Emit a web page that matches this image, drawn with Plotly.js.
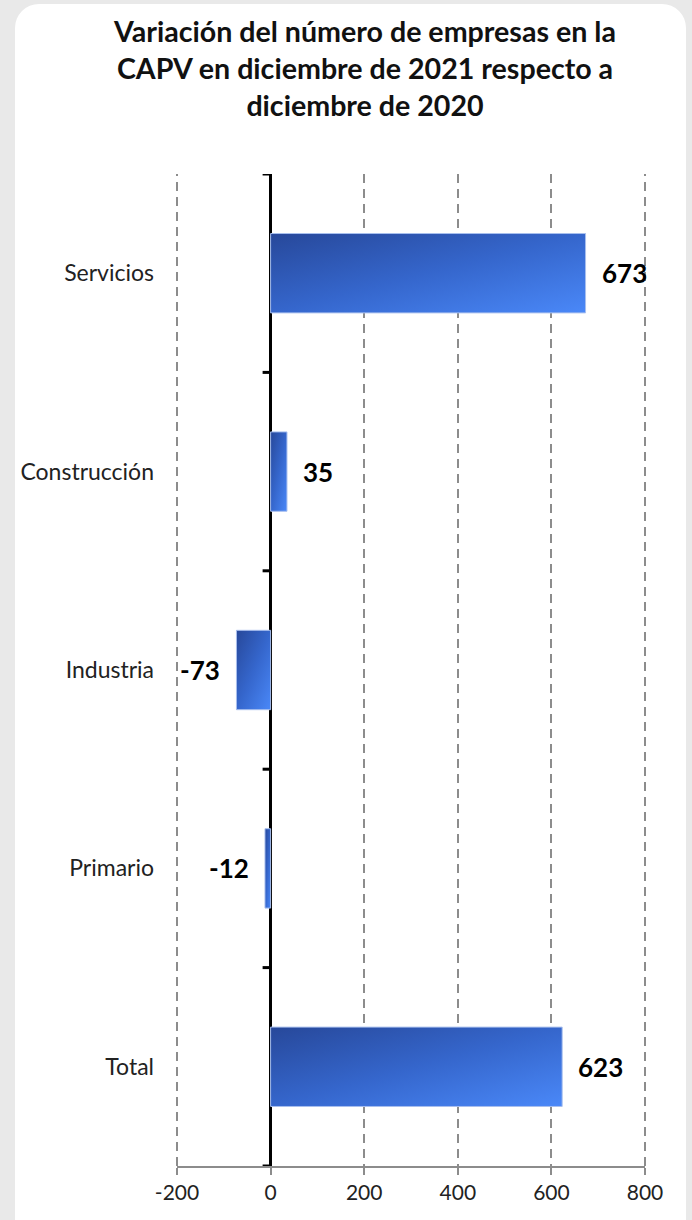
<!DOCTYPE html>
<html>
<head>
<meta charset="utf-8">
<script src="https://cdn.plot.ly/plotly-3.0.1.min.js"></script>
<style>
  html, body { margin:0; padding:0; background:#e9e9e9; overflow:hidden; width:692px; height:1220px; }
  #panel { position:absolute; left:15px; top:4px; width:671px; height:1260px; background:#ffffff; border-radius:24px; }
  #chart { position:absolute; left:0; top:0; width:692px; height:1220px; }
</style>
</head>
<body>
<div id="panel"></div>
<div id="chart"></div>
<script>
// Data (top to bottom as displayed)
const categories = ['Servicios', 'Construcción', 'Industria', 'Primario', 'Total'];
const values = [673, 35, -73, -12, 623];
const xTickValues = [-200, 0, 200, 400, 600, 800];
const titleText = 'Variación del número de empresas en la<br>CAPV en diciembre de 2021 respecto a<br>diciembre de 2020';

const FONT = 'Lato, "Open Sans", sans-serif';
const xRange = [xTickValues[0], xTickValues[xTickValues.length - 1]];

const trace = {
  type: 'bar',
  orientation: 'h',
  x: values,
  y: categories,
  width: 0.4,
  marker: { color: '#3568d0', line: { color: '#a8bfee', width: 1 } },
  hoverinfo: 'skip'
};

const annotations = values.map((v, i) => ({
  x: v,
  y: categories[i],
  xref: 'x',
  yref: 'y',
  text: '<b>' + v + '</b>',
  showarrow: false,
  xanchor: v >= 0 ? 'left' : 'right',
  xshift: v >= 0 ? 14 : -14,
  font: { family: FONT, size: 26, color: '#000000' }
}));

const shapes = [];
// dashed gridlines at the plot edges (first and last tick), paper-referenced so they are not clipped
xRange.forEach(xv => {
  const px = (xv - xRange[0]) / (xRange[1] - xRange[0]);
  shapes.push({
    type: 'line', xref: 'paper', yref: 'paper', x0: px, x1: px, y0: 0, y1: 1,
    line: { color: '#8c8c8c', width: 2, dash: '9px,6px' }, layer: 'below'
  });
});
// boundary tick marks on the zero line
for (let i = 0; i <= categories.length; i++) {
  shapes.push({
    type: 'line', xref: 'x', yref: 'y', xsizemode: 'pixel', xanchor: 0,
    x0: -8, x1: 0, y0: i - 0.5, y1: i - 0.5,
    line: { color: '#000000', width: 3 }, layer: 'above'
  });
}

const layout = {
  width: 692,
  height: 1220,
  paper_bgcolor: 'rgba(0,0,0,0)',
  plot_bgcolor: 'rgba(0,0,0,0)',
  margin: { l: 177, r: 47, t: 174, b: 54 },
  showlegend: false,
  hovermode: false,
  title: {
    text: titleText,
    font: { family: FONT, size: 28.6, color: '#111111', weight: 'bold' },
    x: 365 / 692,
    xanchor: 'center',
    xref: 'container',
    y: 0.9655,
    yref: 'container',
    yanchor: 'top'
  },
  xaxis: {
    range: xRange,
    tickvals: xTickValues,
    ticktext: xTickValues.map(String),
    showline: true,
    linecolor: '#8c8c8c',
    linewidth: 2,
    ticks: 'outside',
    ticklen: 7,
    tickwidth: 2,
    tickcolor: '#8c8c8c',
    showgrid: true,
    gridcolor: '#8c8c8c',
    gridwidth: 2,
    griddash: '9px,6px',
    zeroline: true,
    zerolinecolor: '#000000',
    zerolinewidth: 3,
    tickfont: { family: FONT, size: 21, color: '#222222' },
    fixedrange: true
  },
  yaxis: {
    type: 'category',
    categoryarray: categories,
    categoryorder: 'array',
    range: [categories.length - 0.5, -0.5],
    showgrid: false,
    showline: false,
    zeroline: false,
    ticks: '',
    ticklabelstandoff: 22,
    tickfont: { family: FONT, size: 23, color: '#222222' },
    fixedrange: true
  },
  shapes: shapes,
  annotations: annotations
};

Plotly.newPlot('chart', [trace], layout, { displayModeBar: false, staticPlot: true }).then(gd => {
  const svg = gd.querySelector('svg.main-svg');
  const ns = 'http://www.w3.org/2000/svg';
  let defs = svg.querySelector('defs');
  if (!defs) { defs = document.createElementNS(ns, 'defs'); svg.insertBefore(defs, svg.firstChild); }
  const grad = document.createElementNS(ns, 'linearGradient');
  grad.setAttribute('id', 'barGrad');
  grad.setAttribute('x1', '0'); grad.setAttribute('y1', '0');
  grad.setAttribute('x2', '1'); grad.setAttribute('y2', '1');
  [['0', '#27489a'], ['0.5', '#3566cc'], ['1', '#4a88f8']].forEach(([o, c]) => {
    const s = document.createElementNS(ns, 'stop');
    s.setAttribute('offset', o);
    s.setAttribute('stop-color', c);
    grad.appendChild(s);
  });
  defs.appendChild(grad);
  gd.querySelectorAll('.barlayer .point path').forEach(p => {
    p.style.fill = 'url(#barGrad)';
  });
});
</script>
</body>
</html>
